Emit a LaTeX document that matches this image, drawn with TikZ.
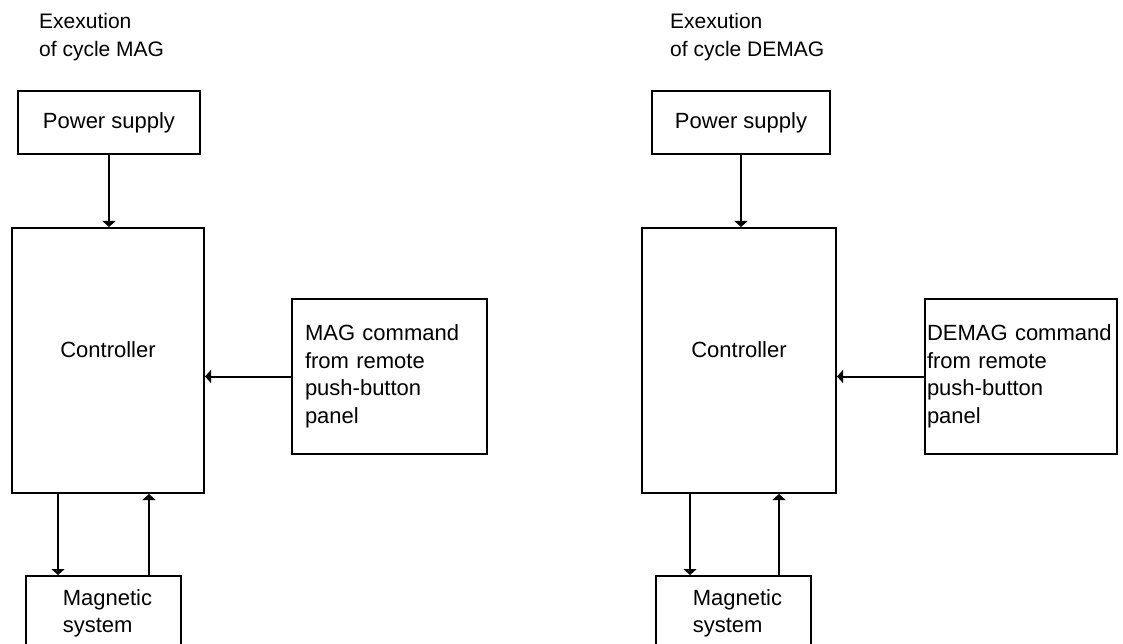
\documentclass[tikz,border=0pt]{standalone}
\usepackage{fontspec}
\setmainfont{Liberation Sans}
\usetikzlibrary{arrows.meta}
\tikzset{blockbox/.style={draw,line width=2pt,inner sep=0pt,font=\fontsize{22}{27.5}\selectfont},
  sig/.style={line width=2pt,-{Triangle[length=6pt,width=13pt]}},
  title/.style={anchor=west,align=left,inner sep=0pt,font=\fontsize{21}{28}\selectfont}}

\begin{document}
\begin{tikzpicture}[x=1pt,y=-1pt]
 \useasboundingbox (0,0) rectangle (1123,644);
 % cycle MAG
 \node[title] (titA) at (39,37) {Exexution\\of cycle MAG};
 \node[blockbox,minimum width=182pt,minimum height=63pt] (psA) at (109,122.5) {Power supply};
 \node[blockbox,minimum width=192pt,minimum height=265pt,text depth=21pt] (ctrlA) at (108,360.5) {Controller};
 \node[blockbox,minimum width=195pt,minimum height=155pt,text width=169pt,inner xsep=13pt,align=left] (cmdA) at (389.5,376.5) {MAG command\\from remote\\push-button\\panel};
 \node[blockbox,minimum width=155pt,minimum height=75pt,align=left] (magA) at (103.5,613.5) {\hspace*{8pt}Magnetic\\\hspace*{8pt}system};
 \draw[sig] (psA.south) -- (psA.south |- ctrlA.north);
 \draw[sig] (cmdA.west) -- (cmdA.west -| ctrlA.east);
 \draw[sig] ([xshift=-45.5pt]magA.north |- ctrlA.south) -- ([xshift=-45.5pt]magA.north);
 \draw[sig] ([xshift=45.5pt]magA.north) -- ([xshift=45.5pt]magA.north |- ctrlA.south);
 % cycle DEMAG
 \node[title] (titB) at (670,37) {Exexution\\of cycle DEMAG};
 \node[blockbox,minimum width=178pt,minimum height=63pt] (psB) at (741,122.5) {Power supply};
 \node[blockbox,minimum width=194pt,minimum height=265pt,text depth=21pt] (ctrlB) at (739,360.5) {Controller};
 \node[blockbox,minimum width=192pt,minimum height=155pt,text width=188pt,inner xsep=2pt,align=left] (cmdB) at (1021,376.5) {\mbox{DEMAG command}\\from remote\\push-button\\panel};
 \node[blockbox,minimum width=155pt,minimum height=75pt,align=left] (magB) at (733.5,613.5) {\hspace*{8pt}Magnetic\\\hspace*{8pt}system};
 \draw[sig] (psB.south) -- (psB.south |- ctrlB.north);
 \draw[sig] (cmdB.west) -- (cmdB.west -| ctrlB.east);
 \draw[sig] ([xshift=-43.5pt]magB.north |- ctrlB.south) -- ([xshift=-43.5pt]magB.north);
 \draw[sig] ([xshift=45.5pt]magB.north) -- ([xshift=45.5pt]magB.north |- ctrlB.south);
\end{tikzpicture}
\end{document}
